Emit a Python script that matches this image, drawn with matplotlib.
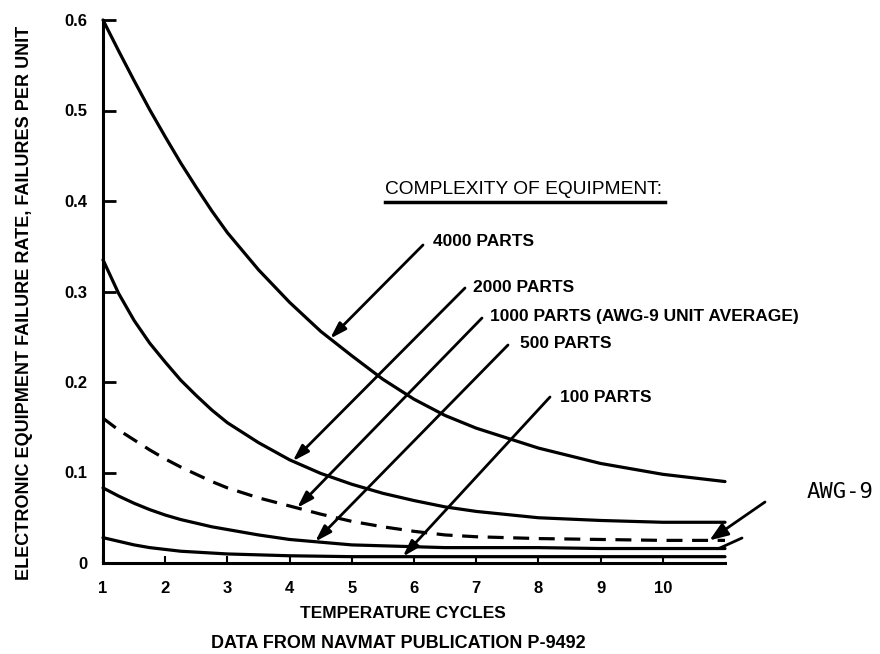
import numpy as np
import matplotlib
matplotlib.use("Agg")
import matplotlib.pyplot as plt
from matplotlib.lines import Line2D

plt.rcParams['font.family'] = ['Liberation Sans', 'DejaVu Sans']

# ---- data ----
x_cycles = [1, 1.25, 1.5, 1.75, 2, 2.25, 2.5, 2.75, 3, 3.5, 4, 4.5, 5, 5.5, 6, 6.5, 7, 8, 9, 10, 11]
parts_4000 = [0.600, 0.566, 0.533, 0.501, 0.471, 0.442, 0.415, 0.389, 0.365, 0.324, 0.288,
              0.256, 0.229, 0.203, 0.181, 0.163, 0.149, 0.127, 0.110, 0.098, 0.090]
parts_2000 = [0.335, 0.298, 0.268, 0.243, 0.222, 0.202, 0.185, 0.169, 0.155, 0.133, 0.114,
              0.099, 0.087, 0.077, 0.069, 0.062, 0.057, 0.050, 0.047, 0.045, 0.045]
parts_1000 = [0.160, 0.147, 0.136, 0.125, 0.115, 0.106, 0.098, 0.090, 0.083, 0.072, 0.063,
              0.054, 0.046, 0.040, 0.035, 0.031, 0.029, 0.027, 0.026, 0.025, 0.025]
parts_500 = [0.083, 0.074, 0.066, 0.059, 0.053, 0.048, 0.044, 0.040, 0.037, 0.031, 0.026,
             0.023, 0.020, 0.019, 0.018, 0.017, 0.017, 0.017, 0.016, 0.016, 0.016]
parts_100 = [0.028, 0.024, 0.020, 0.017, 0.015, 0.013, 0.012, 0.011, 0.010, 0.009, 0.008,
             0.0075, 0.007, 0.007, 0.007, 0.007, 0.007, 0.007, 0.007, 0.007, 0.007]

series_labels = ['4000 PARTS', '2000 PARTS', '1000 PARTS (AWG-9 UNIT AVERAGE)', '500 PARTS', '100 PARTS']
x_ticks = [1, 2, 3, 4, 5, 6, 7, 8, 9, 10]
y_ticks = [0, 0.1, 0.2, 0.3, 0.4, 0.5, 0.6]
y_tick_labels = ['0', '0.1', '0.2', '0.3', '0.4', '0.5', '0.6']

W, H = 880, 654
fig = plt.figure(figsize=(W / 100, H / 100), dpi=100)
fig.patch.set_facecolor('white')


def fx(px):
    return px / W


def fy(py):
    return 1 - py / H


ax = fig.add_axes([fx(103), fy(563), (725 - 103) / W, (563 - 20) / H])
ax.set_xlim(1, 11)
ax.set_ylim(0, 0.6)

lw = 2.3
series = [parts_4000, parts_2000, parts_1000, parts_500, parts_100]
styles = ['-', '-', (0, (5, 3)), '-', '-']
for vals, ls in zip(series, styles):
    ax.plot(x_cycles, vals, color='black', lw=lw, linestyle=ls, clip_on=False,
            solid_capstyle='round', solid_joinstyle='round', dash_capstyle='butt')

for s in ['top', 'right']:
    ax.spines[s].set_visible(False)
for s in ['left', 'bottom']:
    ax.spines[s].set_linewidth(2.2)
    ax.spines[s].set_capstyle('projecting')

ax.set_yticks(y_ticks)
ax.set_yticklabels(y_tick_labels)
ax.set_xticks(x_ticks)
ax.set_xticklabels([str(t) for t in x_ticks])
ax.tick_params(axis='y', direction='in', length=9, width=2, pad=11,
               labelsize=12)
ax.tick_params(axis='x', direction='in', length=5, width=1.5, pad=13,
               labelsize=12)
for lab in ax.get_xticklabels() + ax.get_yticklabels():
    lab.set_fontweight('bold')

# axis titles
fig.text(fx(25), fy(303), 'ELECTRONIC EQUIPMENT FAILURE RATE, FAILURES PER UNIT',
         rotation=90, ha='center', va='center', fontsize=13, fontweight='bold')
fig.text(fx(403), fy(613), 'TEMPERATURE CYCLES', ha='center', va='center',
         fontsize=12.5, fontweight='bold')
fig.text(fx(398), fy(643), 'DATA FROM NAVMAT PUBLICATION P-9492', ha='center',
         va='center', fontsize=13, fontweight='bold')

# legend-like heading
fig.text(fx(385), fy(190), 'COMPLEXITY OF EQUIPMENT:', ha='left', va='center',
         fontsize=13.8)
fig.add_artist(Line2D([fx(385), fx(665)], [fy(202), fy(202)], lw=2.5, color='black'))

# labels + arrows
label_pos = [(433, 242), (473, 287), (490, 317), (520, 343), (560, 398)]
tail_pos = [(423, 245), (465, 288), (482, 318), (508, 345), (550, 397)]
tip_x = [4.65, 4.05, 4.12, 4.41, 5.82]
for lab, vals, (lx, ly), (tx, ty), xt in zip(series_labels, series, label_pos, tail_pos, tip_x):
    fig.text(fx(lx), fy(ly), lab, ha='left', va='center', fontsize=12.5,
             fontweight='bold')
    yt = float(np.interp(xt, x_cycles, vals))
    ax.annotate('', xy=(xt, yt), xycoords='data',
                xytext=(tx, H - ty), textcoords='figure pixels',
                arrowprops=dict(arrowstyle='-|>,head_length=0.7,head_width=0.22',
                                mutation_scale=14, lw=2, color='black',
                                shrinkA=0, shrinkB=0))

# AWG-9 callout
fig.text(fx(807), fy(492), 'AWG-9', ha='left', va='center', fontsize=16,
         family=['DejaVu Sans Mono'])
ax.annotate('', xy=(10.75, float(np.interp(10.75, x_cycles, parts_1000))), xycoords='data',
            xytext=(765, H - 502), textcoords='figure pixels',
            arrowprops=dict(arrowstyle='-|>,head_length=0.8,head_width=0.3',
                            mutation_scale=14, lw=2, color='black',
                            shrinkA=0, shrinkB=0), annotation_clip=False)
ax.annotate('', xy=(10.9, float(np.interp(10.9, x_cycles, parts_500))), xycoords='data',
            xytext=(742, H - 538), textcoords='figure pixels',
            arrowprops=dict(arrowstyle='-', lw=2, color='black',
                            shrinkA=0, shrinkB=0), annotation_clip=False)

fig.savefig('out.png', dpi=100, facecolor='white')
